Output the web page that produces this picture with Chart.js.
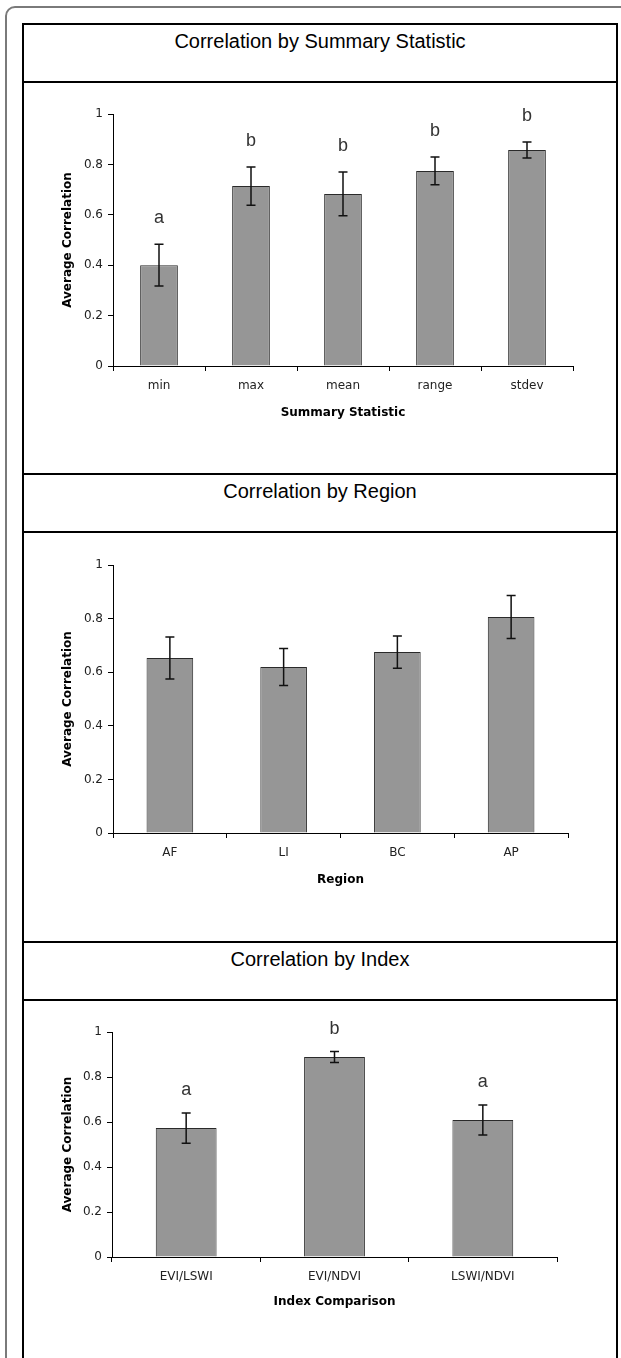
<!DOCTYPE html>
<html>
<head>
<meta charset="utf-8">
<script src="https://cdn.jsdelivr.net/npm/chart.js@4.4.0/dist/chart.umd.min.js"></script>
<style>
    body { margin: 0; background: #fff; width: 621px; height: 1358px; overflow: hidden; position: relative; font-family: Arial, "Liberation Sans", sans-serif; }
    .frame { position: absolute; left: 5px; top: 6px; width: 700px; height: 1450px; border: 2px solid #7a7a7a; border-radius: 10px; }
    .titulo { position: absolute; left: 22px; width: 596px; height: 60px; box-sizing: border-box; border: 2px solid #000; background: #fff;
              text-align: center; font-size: 20px; line-height: 23px; padding-top: 5px; color: #000; }
    .celula { position: absolute; left: 22px; width: 596px; box-sizing: border-box; border-left: 2px solid #000; border-right: 2px solid #000; background: #fff; }
    .celula canvas { display: block; }
</style>
</head>
<body>
<div class="frame"></div>

<div class="titulo" style="top:23px">Correlation by Summary Statistic</div>
<div class="celula" style="top:83px; height:390px"><canvas id="chart-stat" width="592" height="390"></canvas></div>

<div class="titulo" style="top:473px">Correlation by Region</div>
<div class="celula" style="top:533px; height:408px"><canvas id="chart-region" width="592" height="408"></canvas></div>

<div class="titulo" style="top:941px">Correlation by Index</div>
<div class="celula" style="top:1001px; height:357px"><canvas id="chart-index" width="592" height="357"></canvas></div>

<script>
var statLabels  = ['min', 'max', 'mean', 'range', 'stdev'];
var statMeans   = [0.400, 0.714, 0.683, 0.774, 0.857];
var statErrors  = [0.083, 0.076, 0.087, 0.055, 0.032];
var statLetters = ['a', 'b', 'b', 'b', 'b'];

var regionLabels = ['AF', 'LI', 'BC', 'AP'];
var regionMeans  = [0.653, 0.619, 0.675, 0.806];
var regionErrors = [0.078, 0.069, 0.060, 0.080];

var indexLabels  = ['EVI/LSWI', 'EVI/NDVI', 'LSWI/NDVI'];
var indexMeans   = [0.573, 0.889, 0.609];
var indexErrors  = [0.067, 0.024, 0.067];
var indexLetters = ['a', 'b', 'a'];

var yTickStep = 0.2;

// error bars + significance letters, drawn through the chart's own scales
var errorBarPlugin = {
    id: 'errorBars',
    afterDatasetsDraw: function(chart, args, opts) {
        var ctx = chart.ctx;
        var sx = chart.scales.x;
        var sy = chart.scales.y;
        var ds = chart.data.datasets[0];
        ctx.save();
        for (var i = 0; i < ds.data.length; i++) {
            var px = sx.getPixelForValue(i);
            var top = sy.getPixelForValue(ds.data[i] + ds.errors[i]);
            var bot = sy.getPixelForValue(ds.data[i] - ds.errors[i]);
            ctx.strokeStyle = '#111';
            ctx.lineWidth = 1.5;
            ctx.beginPath();
            ctx.moveTo(px, top); ctx.lineTo(px, bot);
            ctx.moveTo(px - 4.5, top); ctx.lineTo(px + 4.5, top);
            ctx.moveTo(px - 4.5, bot); ctx.lineTo(px + 4.5, bot);
            ctx.stroke();
            if (ds.letters && ds.letters[i]) {
                ctx.fillStyle = '#333';
                ctx.font = '18px Arial, "Liberation Sans", sans-serif';
                ctx.textAlign = 'center';
                ctx.textBaseline = 'alphabetic';
                ctx.fillText(ds.letters[i], px, top - opts.gap);
            }
        }
        ctx.restore();
    }
};

function desenhaGrafico(id, labels, means, errors, letters, xTitle, g) {
    new Chart(document.getElementById(id), {
        type: 'bar',
        data: {
            labels: labels,
            datasets: [{
                data: means,
                errors: errors,
                letters: letters,
                backgroundColor: '#969696',
                borderColor: '#2a2a2a',
                borderWidth: 1,
                barPercentage: 0.41,
                categoryPercentage: 1
            }]
        },
        options: {
            responsive: false,
            animation: false,
            layout: { padding: { top: g.top, right: g.right, bottom: g.bottom, left: 0 } },
            plugins: {
                legend: { display: false },
                tooltip: { enabled: false },
                errorBars: { gap: g.gap }
            },
            scales: {
                x: {
                    grid: { offset: true, drawOnChartArea: false, drawTicks: true, tickLength: 5, color: '#000' },
                    border: { color: '#000', width: 1 },
                    ticks: { color: '#222', padding: 8, font: { family: 'DejaVu Sans', size: 12 } },
                    title: {
                        display: true, text: xTitle, color: '#000',
                        font: { family: 'DejaVu Sans', size: 12, weight: 'bold' },
                        padding: { top: 0, bottom: g.xTitlePad }
                    },
                    afterFit: function(s) { s.height = 60; }
                },
                y: {
                    min: 0,
                    max: 1,
                    ticks: {
                        stepSize: yTickStep, color: '#222', padding: 5,
                        font: { family: 'DejaVu Sans', size: 12 },
                        callback: function(v) { return String(Math.round(v * 10) / 10); }
                    },
                    grid: { drawOnChartArea: false, drawTicks: true, tickLength: 5, color: '#000' },
                    border: { color: '#000', width: 1 },
                    title: {
                        display: true, text: 'Average Correlation', color: '#000',
                        font: { family: 'DejaVu Sans', size: 12, weight: 'bold' },
                        padding: { top: 37, bottom: 0 }
                    },
                    afterFit: function(s) { s.width = g.yWidth; }
                }
            }
        },
        plugins: [errorBarPlugin]
    });
}

desenhaGrafico('chart-stat', statLabels, statMeans, statErrors, statLetters, 'Summary Statistic',
    { top: 31, right: 43, bottom: 47, yWidth: 89, xTitlePad: 6, gap: 21 });

desenhaGrafico('chart-region', regionLabels, regionMeans, regionErrors, null, 'Region',
    { top: 32, right: 48, bottom: 48, yWidth: 89, xTitlePad: 6, gap: 20 });

desenhaGrafico('chart-index', indexLabels, indexMeans, indexErrors, indexLetters, 'Index Comparison',
    { top: 31, right: 59, bottom: 41, yWidth: 88, xTitlePad: 8, gap: 18 });
</script>
</body>
</html>
